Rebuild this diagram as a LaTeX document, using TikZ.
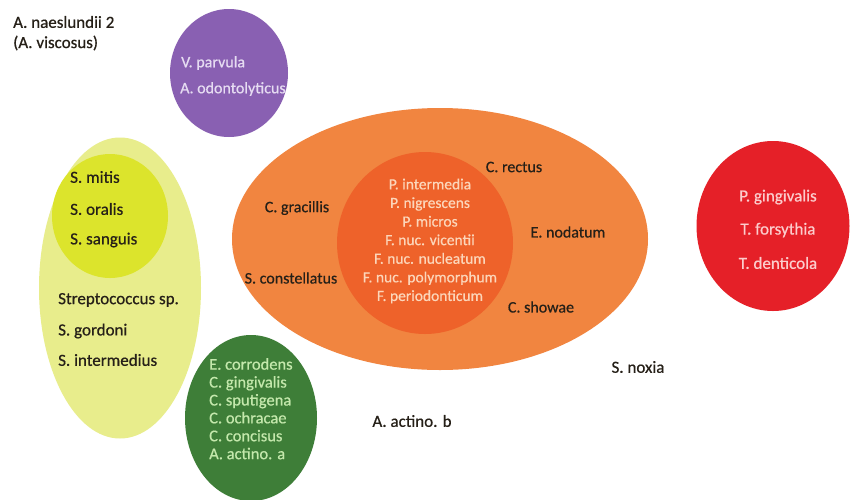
\documentclass[tikz,border=0pt]{standalone}
\usepackage{fontspec}
\setmainfont{Carlito}[FakeBold=0.6]
\usetikzlibrary{shapes.geometric}
\definecolor{purp}{RGB}{137,96,178}
\definecolor{purptxt}{RGB}{230,220,242}
\definecolor{yelout}{RGB}{232,237,140}
\definecolor{yelin}{RGB}{220,228,44}
\definecolor{orout}{RGB}{241,133,64}
\definecolor{orin}{RGB}{238,98,42}
\definecolor{ortxt}{RGB}{252,214,186}
\definecolor{redc}{RGB}{229,32,40}
\definecolor{redtxt}{RGB}{252,204,204}
\definecolor{grn}{RGB}{62,126,56}
\definecolor{grntxt}{RGB}{196,232,172}
\definecolor{darktxt}{RGB}{38,32,24}
\tikzset{
  blob/.style={ellipse, inner sep=0pt, draw=none},
  lbl/.style={inner sep=0pt, text=darktxt, font=\fontsize{17}{20}\selectfont},
  lblw/.style={lbl, anchor=west},
}
\begin{document}
\begin{tikzpicture}[x=1pt,y=-1pt]
\useasboundingbox (0,0) rectangle (857,499);
\fill[white] (0,0) rectangle (857,499);
% shapes
\node[blob, fill=purp, minimum width=118pt, minimum height=128pt] (purple) at (229,73) {};
\node[blob, fill=yelout, minimum width=162pt, minimum height=301pt] (yout) at (120,288) {};
\node[blob, fill=yelin, minimum width=116pt, minimum height=124pt] (yin) at (110,216) {};
\node[blob, fill=orout, minimum width=416pt, minimum height=262pt] (oout) at (440,239) {};
\node[blob, fill=orin, minimum width=176pt, minimum height=182pt] (oin) at (425,243) {};
\node[blob, fill=redc, minimum width=153pt, minimum height=170pt] (red) at (773,226) {};
\node[blob, fill=grn, minimum width=132pt, minimum height=166pt] (green) at (251,418) {};
% top-left label
\node[lblw] (nae) at (13,22) {A. naeslundii 2};
\node[lblw] (visc) at (13,43) {(A. viscosus)};
% purple
\node[lblw, text=purptxt, font=\fontsize{16}{19}\selectfont] (vpar) at (181,63) {V. parvula};
\node[lblw, text=purptxt, font=\fontsize{16}{19}\selectfont] (aodo) at (180,89) {A. odontolyticus};
% yellow
\node[lblw] (smit) at (70,177) {S. mitis};
\node[lblw] (sora) at (70,209) {S. oralis};
\node[lblw] (ssan) at (70,240) {S. sanguis};
\node[lblw] (strep) at (58,300) {Streptococcus sp.};
\node[lblw] (sgor) at (58,331) {S. gordoni};
\node[lblw] (sint) at (58,360) {S. intermedius};
% orange outer
\node[lbl, font=\fontsize{16}{19}\selectfont] (crec) at (514,167) {C. rectus};
\node[lbl, font=\fontsize{16}{19}\selectfont] (cgra) at (297,208) {C. gracillis};
\node[lbl, font=\fontsize{16}{19}\selectfont] (enod) at (568,232) {E. nodatum};
\node[lbl, font=\fontsize{16}{19}\selectfont] (scon) at (291,278) {S. constellatus};
\node[lbl, font=\fontsize{16}{19}\selectfont] (csho) at (541,307) {C. showae};
% orange inner
\node[inner sep=0pt, text=ortxt, align=center, font=\fontsize{15.5}{18.6}\selectfont] (innertxt) at (430,241)
  {P. intermedia\\P. nigrescens\\P. micros\\F. nuc. vicentii\\F. nuc. nucleatum\\F. nuc. polymorphum\\F. periodonticum};
% red
\node[lbl, text=redtxt] (pgin) at (778,197) {P. gingivalis};
\node[lbl, text=redtxt] (tfor) at (778,230) {T. forsythia};
\node[lbl, text=redtxt] (tden) at (778,263) {T. denticola};
% green
\node[inner sep=0pt, anchor=north west, text=grntxt, align=left, font=\fontsize{16.5}{17.9}\selectfont] (greentxt) at (209,358)
  {E. corrodens\\C. gingivalis\\C. sputigena\\C. ochracae\\C. concisus\\A. actino. a};
% free labels
\node[lbl] (snox) at (638,367) {S. noxia};
\node[lbl] (aactb) at (412,421) {A. actino. b};
\end{tikzpicture}
\end{document}
